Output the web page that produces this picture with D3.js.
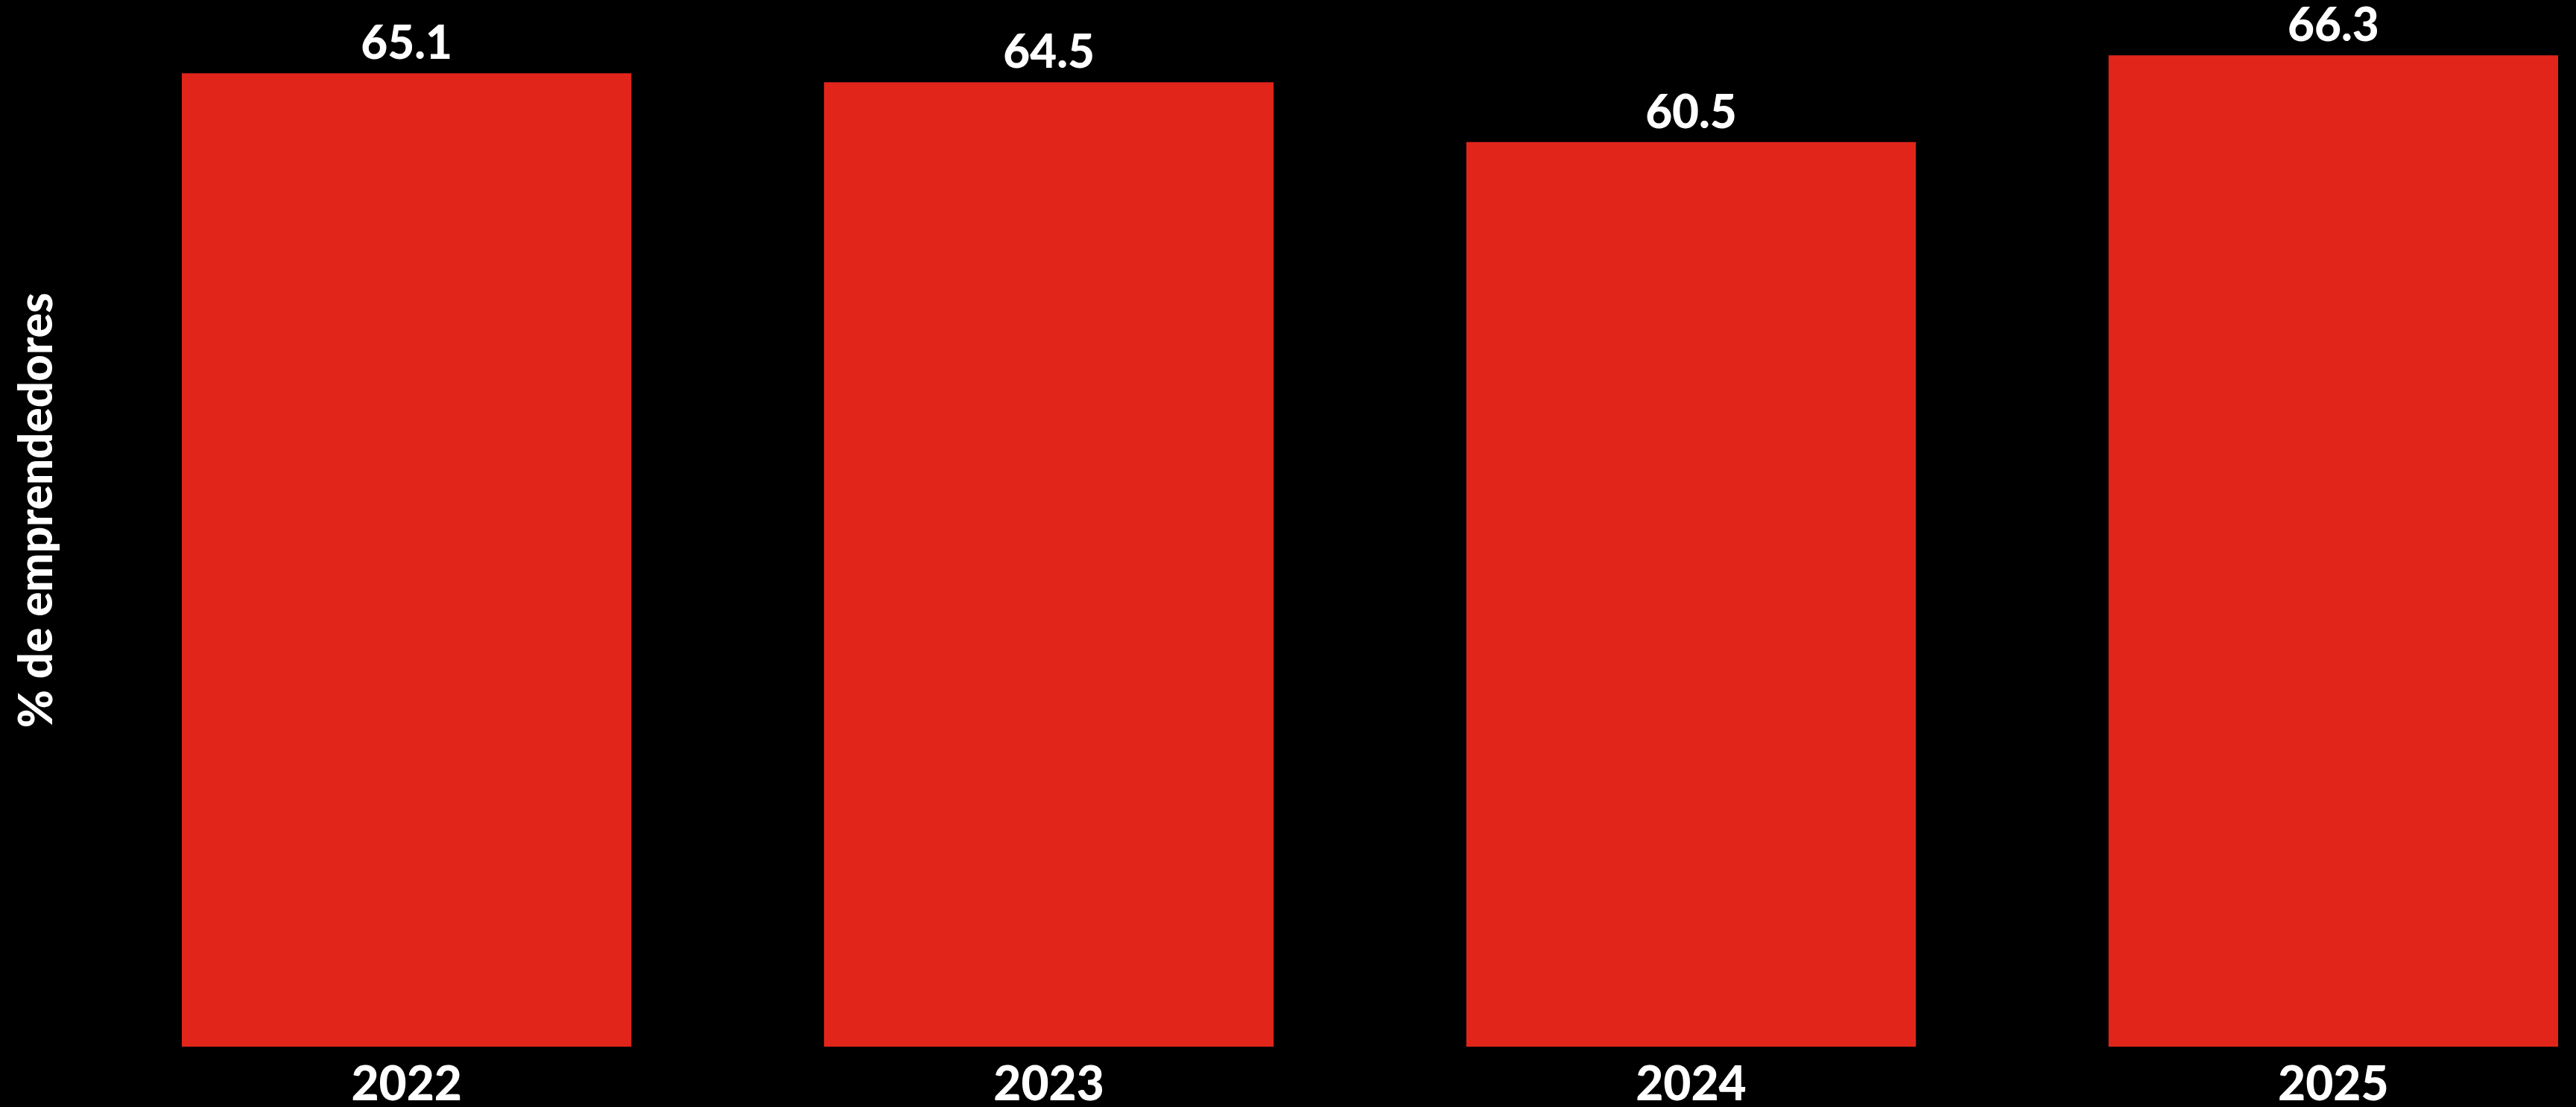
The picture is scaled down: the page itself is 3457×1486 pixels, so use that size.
<!DOCTYPE html>
<html>
<head>
<meta charset="utf-8">
<script src="https://cdn.jsdelivr.net/npm/d3@7"></script>
<style>
  html, body { margin: 0; padding: 0; background: #000; }
  svg { display: block; }
  text { font-family: "Lato", "Open Sans", sans-serif; font-weight: 900; fill: #fff; }
</style>
</head>
<body>
<script>
const categories = ["2022", "2023", "2024", "2025"];
const values = [65.1, 64.5, 60.5, 66.3];
const valueLabels = ["65.1", "64.5", "60.5", "66.3"];
const yAxisTitle = "% de emprendedores";

const W = 3457, H = 1486;
const svg = d3.select("body").append("svg").attr("width", W).attr("height", H);
svg.append("rect").attr("width", W).attr("height", H).attr("fill", "#000");

const x = d3.scaleBand().domain(categories).range([244, 3433]).paddingInner(0.3).paddingOuter(0);
const y = d3.scaleLinear().domain([0, 70]).range([1405, 0]);

const data = categories.map((c, i) => ({ c, v: values[i], l: valueLabels[i] }));

svg.selectAll("rect.bar").data(data).join("rect")
  .attr("class", "bar")
  .attr("x", d => x(d.c))
  .attr("y", d => y(d.v))
  .attr("width", x.bandwidth())
  .attr("height", d => y(0) - y(d.v))
  .attr("fill", "#e1251b");

svg.selectAll("text.val").data(data).join("text")
  .attr("class", "val")
  .attr("x", d => x(d.c) + x.bandwidth() / 2)
  .attr("y", d => y(d.v) - 19)
  .attr("text-anchor", "middle")
  .attr("font-size", 62)
  .text(d => d.l);

const xAxis = svg.append("g").attr("transform", `translate(0,${y(0)})`)
  .call(d3.axisBottom(x).tickSize(0).tickPadding(0));
xAxis.select(".domain").remove();
xAxis.selectAll("text")
  .attr("dy", null)
  .attr("y", 72)
  .attr("font-size", 64)
  .style("font-family", "Lato, 'Open Sans', sans-serif")
  .style("font-weight", 900)
  .attr("fill", "#fff");

svg.append("text")
  .attr("transform", "translate(70,685) rotate(-90)")
  .attr("text-anchor", "middle")
  .attr("font-size", 62)
  .text(yAxisTitle);
</script>
</body>
</html>
